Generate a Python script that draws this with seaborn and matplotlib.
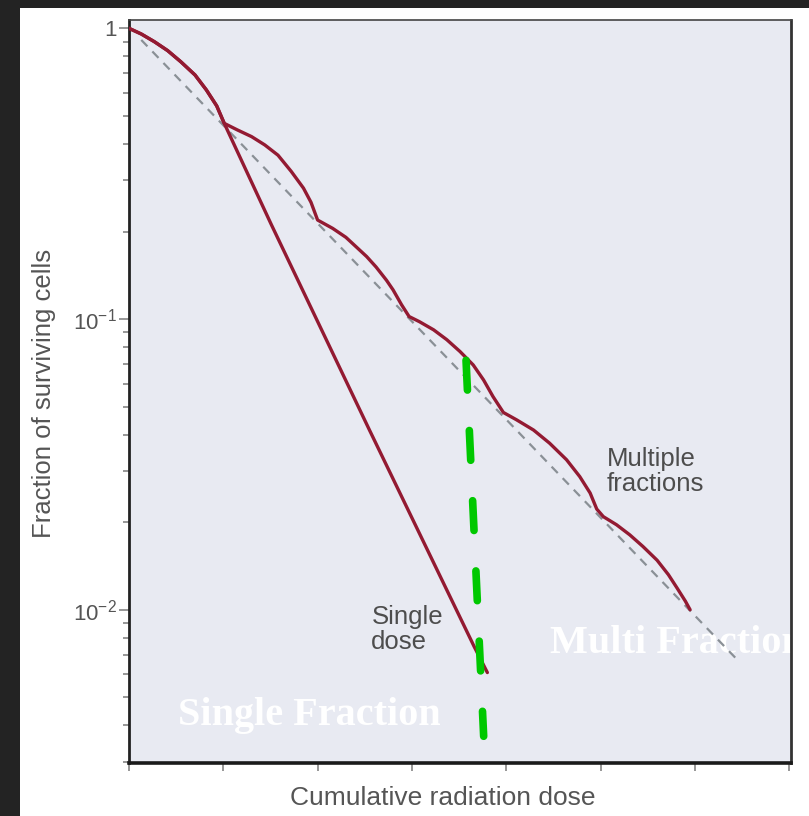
import matplotlib
matplotlib.use("Agg")
import matplotlib.pyplot as plt
import seaborn as sns
import pandas as pd
from matplotlib.patches import Rectangle
from matplotlib.transforms import Bbox
from matplotlib.ticker import LogLocator, NullFormatter

# ---------------- data ----------------
multi_dose = [0.0, 0.13, 0.27, 0.41, 0.55, 0.70, 0.82, 0.93, 1.01,
              1.15, 1.30, 1.44, 1.58, 1.72, 1.85, 1.93, 2.00,
              2.16, 2.30, 2.41, 2.52, 2.62, 2.73, 2.80, 2.89, 2.97,
              3.08, 3.23, 3.37, 3.51, 3.65, 3.76, 3.86, 3.97,
              4.11, 4.29, 4.46, 4.64, 4.78, 4.89, 4.96,
              5.03, 5.17, 5.31, 5.45, 5.60, 5.72, 5.81, 5.90, 5.95]
multi_surv = [1.0, 0.956, 0.899, 0.838, 0.767, 0.691, 0.614, 0.541, 0.471,
              0.447, 0.424, 0.397, 0.366, 0.322, 0.282, 0.252, 0.219,
              0.205, 0.191, 0.177, 0.164, 0.151, 0.136, 0.126, 0.112, 0.102,
              0.0979, 0.0918, 0.0849, 0.0773, 0.0695, 0.0617, 0.0541, 0.0477,
              0.0450, 0.0415, 0.0374, 0.0328, 0.0287, 0.0252, 0.0222,
              0.0209, 0.0196, 0.0181, 0.0165, 0.0148, 0.0132, 0.0119, 0.0107, 0.0100]

single_dose = [0.0, 0.13, 0.27, 0.41, 0.55, 0.70, 0.82, 0.93, 1.01,
               1.51, 2.55, 3.66, 3.80]
single_surv = [1.0, 0.956, 0.899, 0.838, 0.767, 0.691, 0.614, 0.541, 0.471,
               0.211, 0.0415, 0.00747, 0.00608]

trend_dose = [0.13, 6.45]
trend_surv = [0.912, 0.00673]

marker_dose = [3.574, 3.761]
marker_surv = [0.0721, 0.00367]

x_ticks = [0, 1, 2, 3, 4, 5, 6, 7]
y_ticks = [1, 0.1, 0.01]
y_tick_labels = ["1", "$10^{-1}$", "$10^{-2}$"]

x_label = "Cumulative radiation dose"
y_label = "Fraction of surviving cells"
label_multi = "Multiple\nfractions"
label_single = "Single\ndose"
note_single = "Single Fraction"
note_multi = "Multi Fraction"

# ---------------- styling ----------------
sns.set_style("ticks")
plt.rcParams["font.family"] = ["Liberation Sans", "DejaVu Sans"]
plt.rcParams["mathtext.fontset"] = "custom"
plt.rcParams["mathtext.rm"] = "Liberation Sans"
plt.rcParams["mathtext.it"] = "Liberation Sans:italic"
plt.rcParams["mathtext.bf"] = "Liberation Sans:bold"

RED = "#931a32"
GRAY_TXT = "#555555"

W, H = 809, 816
fig = plt.figure(figsize=(W / 100, H / 100), dpi=100, facecolor="#232323")
fig.patches.append(Rectangle((20 / W, 0), 1 - 20 / W, 1 - 8 / H,
                             transform=fig.transFigure, facecolor="white",
                             edgecolor="none", zorder=-5))

ax = fig.add_axes([129 / W, 1 - 763 / H, (791 - 129) / W, (763 - 20) / H])
ax.set_zorder(1)
ax.set_facecolor("#e8eaf2")

df_multi = pd.DataFrame({"dose": multi_dose, "surv": multi_surv})
df_single = pd.DataFrame({"dose": single_dose, "surv": single_surv})

ax.plot(trend_dose, trend_surv, color="#8a9096", lw=1.6,
        linestyle=(0, (4, 3.2)), zorder=2)
sns.lineplot(data=df_single, x="dose", y="surv", ax=ax, color=RED,
             lw=2.4, sort=False, estimator=None, zorder=3,
             solid_joinstyle="round", solid_capstyle="round")
sns.lineplot(data=df_multi, x="dose", y="surv", ax=ax, color=RED,
             lw=2.4, sort=False, estimator=None, zorder=3,
             solid_joinstyle="round", solid_capstyle="round")
ax.plot(marker_dose, marker_surv, color="#00c800", lw=5.5,
        linestyle=(0, (3.9, 5.3)), dash_capstyle="round", zorder=4)

ax.set_yscale("log")
ax.set_xlim(0, 7.02)
ax.set_ylim(0.00297, 1.068)

ax.set_xticks(x_ticks)
ax.set_xticklabels([])
ax.set_yticks(y_ticks)
ax.set_yticklabels(y_tick_labels)
ax.yaxis.set_minor_locator(LogLocator(base=10, subs=range(2, 10)))
ax.yaxis.set_minor_formatter(NullFormatter())

ax.tick_params(axis="y", which="major", direction="out", length=7, width=1.1,
               color="#7a7a7a", labelsize=16, labelcolor=GRAY_TXT, pad=2)
ax.tick_params(axis="y", which="minor", direction="out", length=4.3, width=1.1,
               color="#7a7a7a")
ax.tick_params(axis="x", which="major", direction="out", length=6, width=1.1,
               color="#7a7a7a")

for side, lw, col in [("left", 2.0, "#222222"), ("bottom", 2.6, "#1a1a1a"),
                      ("top", 1.2, "#444444"), ("right", 2.0, "#333333")]:
    ax.spines[side].set_visible(True)
    ax.spines[side].set_linewidth(lw)
    ax.spines[side].set_color(col)

ax.set_xlabel(x_label, fontsize=19, color=GRAY_TXT)
ax.set_ylabel(y_label, fontsize=18.5, color=GRAY_TXT)
ax.xaxis.set_label_coords(0.474, -0.031)
ax.yaxis.set_label_coords(-0.111, 0.497)

ax.text(5.07, 0.0363, label_multi, fontsize=18.5, color="#4d4d4d",
        ha="left", va="top", linespacing=1.05, zorder=5)
ax.text(2.57, 0.0104, label_single, fontsize=18.5, color="#4d4d4d",
        ha="left", va="top", linespacing=1.05, zorder=5)

ax.text(0.515, 0.00402, note_single, fontsize=29, fontweight="bold",
        family=["Liberation Serif", "DejaVu Serif"], color="white",
        ha="left", va="baseline", zorder=1.8)
t = ax.text(4.464, 0.00711, note_multi, fontsize=29, fontweight="bold",
            family=["Liberation Serif", "DejaVu Serif"], color="white",
            ha="left", va="baseline", zorder=1.8)
t.set_clip_on(True)
t.set_clip_box(Bbox.from_extents(0, 0, 797, H))

fig.savefig("out.png", dpi=100, facecolor=fig.get_facecolor())
